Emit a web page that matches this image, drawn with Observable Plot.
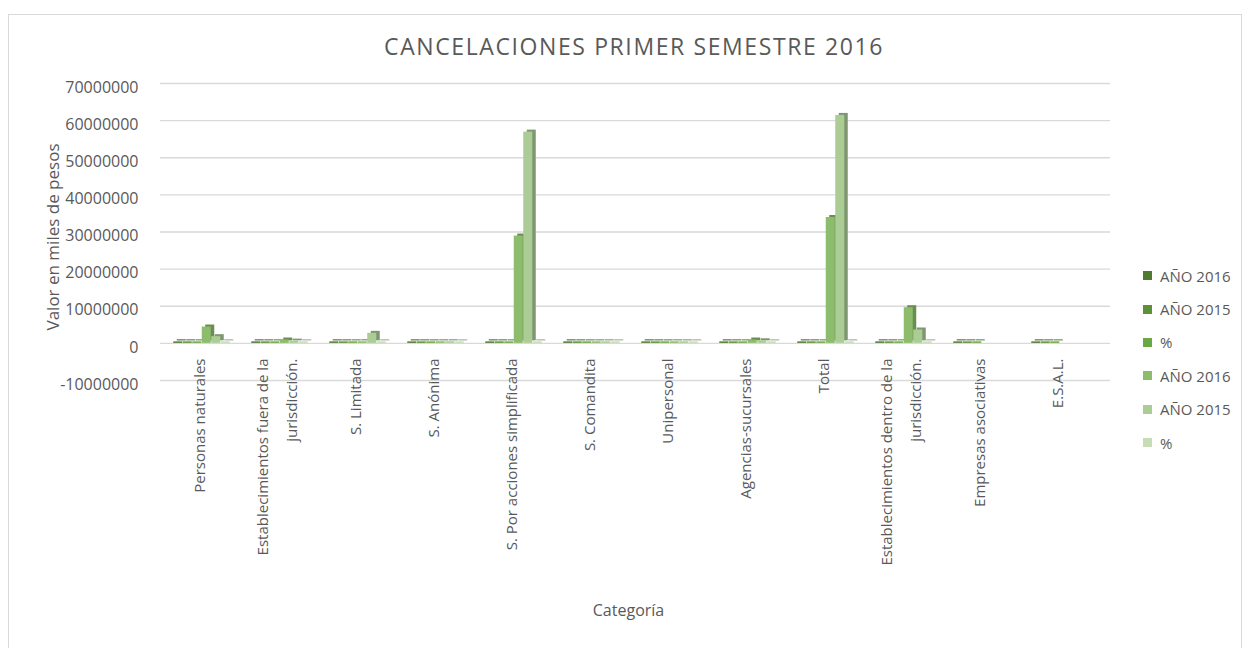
<!DOCTYPE html>
<html>
<head>
<meta charset="utf-8">
<script src="https://cdn.jsdelivr.net/npm/d3@7"></script>
<script src="https://cdn.jsdelivr.net/npm/@observablehq/plot@0.6"></script>
<style>
  body { margin: 0; background: #fff; font-family: "Open Sans", sans-serif; }
  #wrap { position: relative; width: 1249px; height: 648px; overflow: hidden; }
  #frame { position: absolute; left: 8px; top: 14px; width: 1232px; height: 660px; border: 1px solid #d9d9d9; }
  #title { position: absolute; left: 0; width: 1268px; top: 30px; text-align: center; font-size: 23px; letter-spacing: 1.6px; color: #595959; line-height: 32px; }
  #chart { position: absolute; left: 0; top: 0; }
  #legend { position: absolute; left: 1143px; top: 259px; color: #595959; font-size: 15px; }
  .item { height: 33.4px; display: flex; align-items: center; }
  .sw { width: 9px; height: 9px; margin-right: 8px; }
</style>
</head>
<body>
<div id="wrap">
  <div id="frame"></div>
  <div id="title">CANCELACIONES PRIMER SEMESTRE 2016</div>
  <div id="chart"></div>
  <div id="legend"></div>
</div>
<script>
const categories = [
  "Personas naturales",
  "Establecimientos fuera de la jurisdicción.",
  "S. Limitada",
  "S. Anónima",
  "S. Por acciones simplificada",
  "S. Comandita",
  "Unipersonal",
  "Agencias-sucursales",
  "Total",
  "Establecimientos dentro de la jurisdicción.",
  "Empresas asociativas",
  "E.S.A.L."
];
const categoryLabels = [
  "Personas naturales",
  "Establecimientos fuera de la\njurisdicción.",
  "S. Limitada",
  "S. Anónima",
  "S. Por acciones simplificada",
  "S. Comandita",
  "Unipersonal",
  "Agencias-sucursales",
  "Total",
  "Establecimientos dentro de la\njurisdicción.",
  "Empresas asociativas",
  "E.S.A.L."
];
const seriesNames = ["AÑO 2016", "AÑO 2015", "%", "AÑO 2016", "AÑO 2015", "%"];
// first group (near zero at this scale)
const anio2016A = [0, 0, 0, 0, 0, 0, 0, 0, 0, 0, 0, 0];
const anio2015A = [0, 0, 0, 0, 0, 0, 0, 0, 0, 0, 0, 0];
const pctA      = [0, 0, 0, 0, 0, 0, 0, 0, 0, 0, 0, 0];
// second group (valor en miles de pesos)
const anio2016B = [4000000, 500000, 30000, 20000, 28500000, 10000, 10000, 500000, 33500000, 9200000, null, null];
const anio2015B = [1400000, 200000, 2300000, 40000, 56500000, 20000, 20000, 300000, 61000000, 3200000, null, null];
const pctB      = [0, 0, 0, 0, 0, 0, 0, 0, 0, 0, null, null];
const yTicks = [-10000000, 0, 10000000, 20000000, 30000000, 40000000, 50000000, 60000000, 70000000];

const seriesValues = [anio2016A, anio2015A, pctA, anio2016B, anio2015B, pctB];
const frontColors = ["#4f7a30", "#5c9136", "#6aa843", "#8cbc6c", "#abcd95", "#c6ddb6"];
const sideColors  = ["#3a5a23", "#456d29", "#507e33", "#6a8d51", "#7f9770", "#95a688"];

const rows = seriesValues.map(vals => categories.map((c, j) => ({cat: c, v: vals[j]})).filter(d => d.v != null));

const barW = 9.5;
const barMarks = [];
rows.forEach((data, i) => {
  const off = (i - 2.5) * barW + 1.5;
  const inset = (78.5 - barW) / 2;
  barMarks.push(Plot.barY(data, {x: "cat", y1: 0, y2: "v", fill: sideColors[i],
    dx: off + 3.5, dy: -2.5, insetLeft: inset, insetRight: inset, insetTop: -1}));
  barMarks.push(Plot.barY(data, {x: "cat", y1: 0, y2: "v", fill: frontColors[i],
    dx: off, insetLeft: inset, insetRight: inset, insetTop: -1.5}));
});

const chart = Plot.plot({
  width: 1249,
  height: 648,
  marginLeft: 160,
  marginRight: 139,
  marginTop: 83,
  marginBottom: 268,
  style: {fontFamily: "Open Sans, sans-serif", color: "#595959", background: "transparent", overflow: "visible"},
  x: {domain: categories, range: [158, 1100], padding: 0, axis: null},
  y: {domain: [-10000000, 70000000], axis: null},
  marks: [
    Plot.gridY(yTicks, {stroke: "#d9d9d9", strokeOpacity: 1, strokeWidth: 1.4}),
    Plot.axisY(yTicks, {tickSize: 0, tickPadding: 22, dy: 4, fontSize: 16, fill: "#595959",
      tickFormat: d => String(d), label: null}),
    ...barMarks,
    Plot.text(categories, {x: d => d, text: (d, i) => categoryLabels[i], frameAnchor: "bottom", dy: -22, dx: -5,
      rotate: -90, textAnchor: "end", lineAnchor: "middle", lineHeight: 1.95, fontSize: 15, fill: "#595959"}),
    Plot.text(["Valor en miles de pesos"], {frameAnchor: "left", textAnchor: "middle", dx: -107, dy: 5, rotate: -90, fontSize: 17, fill: "#595959"}),
    Plot.text(["Categoría"], {frameAnchor: "bottom", textAnchor: "middle", dx: -7, dy: 235, fontSize: 16, fill: "#595959"})
  ]
});
document.getElementById("chart").appendChild(chart);

const legend = document.getElementById("legend");
seriesNames.forEach((name, i) => {
  const item = document.createElement("div");
  item.className = "item";
  const sw = document.createElement("div");
  sw.className = "sw";
  sw.style.background = frontColors[i];
  const t = document.createElement("span");
  t.textContent = name;
  item.appendChild(sw);
  item.appendChild(t);
  legend.appendChild(item);
});
</script>
</body>
</html>
